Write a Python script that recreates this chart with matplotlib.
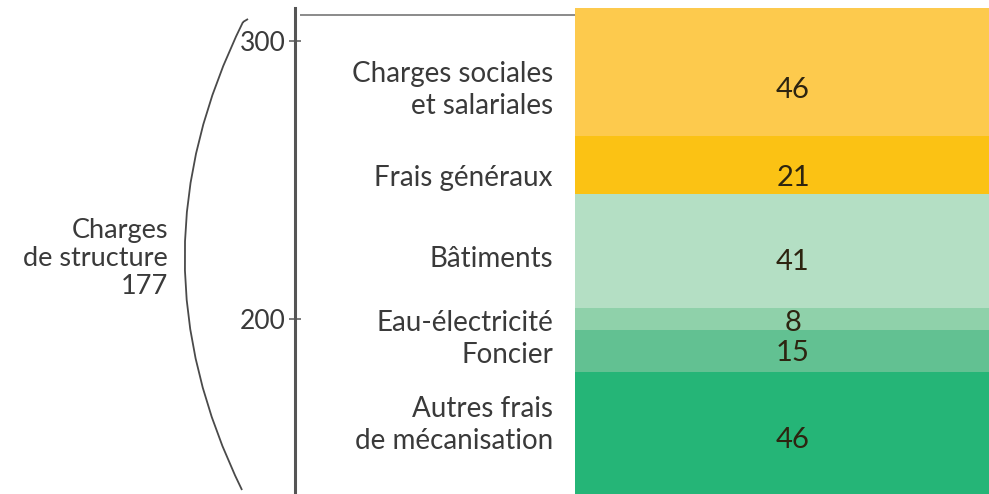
import matplotlib
matplotlib.use("Agg")
import matplotlib.pyplot as plt
from matplotlib.path import Path
from matplotlib.patches import PathPatch

# ---- data ----
categories = ["Autres frais\nde mécanisation", "Foncier", "Eau-électricité",
              "Bâtiments", "Frais généraux", "Charges sociales\net salariales"]
values = [46, 15, 8, 41, 21, 46]
base_value = 135          # cumulative charges below the structure charges
total_label = 177
y_ticks = [200, 300]
colors = ["#25b577", "#62c192", "#8fd1aa", "#b4dfc4", "#fbc214", "#fdca4d"]

# text nudges (pixels, positive = down) for labels and numbers
label_dy = [-11, 4, 4, 8, 13, 18]
number_dy = [4, 2, 4, 11, 13, 18]

W, H = 989, 494
fig = plt.figure(figsize=(W / 100, H / 100), dpi=100)
fig.patch.set_facecolor("white")

font = "Lato"
tcol = "#3a3a3a"

ax = fig.add_axes([295 / W, 0, (W - 295) / W, 1])
ax.set_xlim(0, 1)
ax.set_ylim(137, 314.8)

bar_left = (575 - 295) / (W - 295)
num_x = (793 - 295) / (W - 295)
lab_x = (553 - 295) / (W - 295)

bottom = base_value
for cat, v, c, ldy, ndy in zip(categories, values, colors, label_dy, number_dy):
    ax.bar(bar_left, v, width=1.2, bottom=bottom, align="edge", color=c,
           edgecolor="none", zorder=1)
    mid = bottom + v / 2
    ax.annotate(str(v), (num_x, mid), xytext=(0, -ndy * 0.72), textcoords="offset points",
                ha="center", va="center", fontsize=21, family=font,
                color="#2d2410", zorder=3)
    ax.annotate(cat, (lab_x, mid), xytext=(0, -ldy * 0.72), textcoords="offset points",
                ha="right", va="center", fontsize=20, family=font,
                color=tcol, linespacing=1.3, zorder=3)
    bottom += v
top_value = bottom

# top guide line
ax.plot([0.007, bar_left], [top_value - 2.5, top_value - 2.5], color="#8a8a8a",
        lw=1.4, zorder=2, solid_capstyle="butt")

# axis styling
for s in ["top", "right", "bottom"]:
    ax.spines[s].set_visible(False)
ax.spines["left"].set_color("#555555")
ax.spines["left"].set_linewidth(2.2)
ax.spines["left"].set_bounds(137, top_value)
ax.set_xticks([])
ax.set_yticks(y_ticks)
ax.set_yticklabels([str(t) for t in y_ticks], family=font, fontsize=19, color=tcol)
ax.tick_params(axis="y", direction="inout", length=9, width=1.2,
               color="#666666", pad=2)

# left brace (curve)
def fx(x):
    return x / W

def fy(y):
    return 1 - y / H

verts = [(fx(248), fy(19)), (fx(243), fy(22)),
         (fx(243), fy(22)), (fx(127), fy(256)), (fx(242), fy(490))]
codes = [Path.MOVETO, Path.LINETO, Path.MOVETO, Path.CURVE3, Path.CURVE3]
fig.patches.append(PathPatch(Path(verts, codes), transform=fig.transFigure,
                             fill=False, edgecolor="#4a4a4a", lw=1.3))

fig.text(fx(168), fy(258), f"Charges\nde structure\n{total_label}", ha="right",
         va="center", fontsize=19.5, family=font, color=tcol, linespacing=1.15)

fig.savefig("out.png", dpi=100, facecolor="white")
